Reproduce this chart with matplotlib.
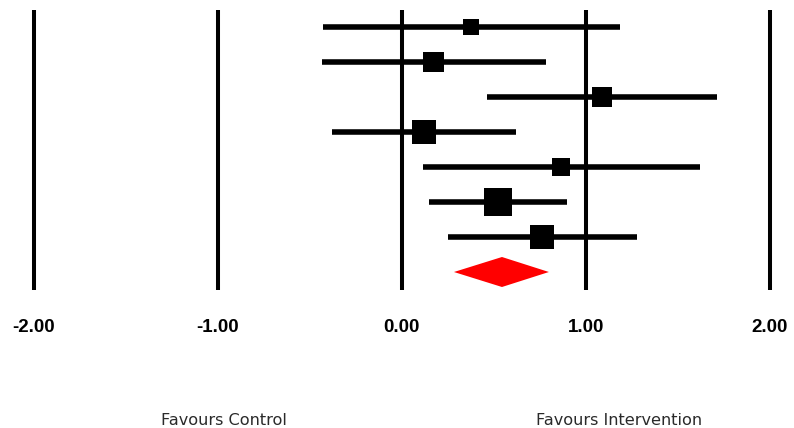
import matplotlib
matplotlib.use("Agg")
import matplotlib.pyplot as plt
from matplotlib.patches import Polygon
import numpy as np

# Study estimates (effect sizes) with 95% CI
point = [0.377, 0.174, 1.089, 0.121, 0.866, 0.523, 0.762]
lower = [-0.429, -0.435, 0.464, -0.379, 0.117, 0.148, 0.250]
upper = [1.186, 0.783, 1.712, 0.621, 1.621, 0.900, 1.277]
weights = [8.1, 12.8, 12.5, 16.3, 9.8, 22.8, 17.7]  # % weight -> square area

# Pooled estimate
pooled_point = 0.545
pooled_lower = 0.284
pooled_upper = 0.800

ticks = [-2.0, -1.0, 0.0, 1.0, 2.0]
tick_labels = ["-2.00", "-1.00", "0.00", "1.00", "2.00"]
left_label = "Favours Control"
right_label = "Favours Intervention"

W, H, DPI = 794, 428, 100
fig = plt.figure(figsize=(W / DPI, H / DPI), dpi=DPI)
ax = fig.add_axes([0, 0, 1, 1])
ax.set_axis_off()

px_per_unit = 184.0
x0_px = 401.7
row_px = 35.0
row0_px = 27.0
ax.set_xlim(-x0_px / px_per_unit, (W - x0_px) / px_per_unit)
ax.set_ylim((H - row0_px) / row_px, -row0_px / row_px)

# vertical reference lines
y_top = (10 - row0_px) / row_px
y_bot = (290 - row0_px) / row_px
for t in ticks:
    ax.plot([t, t], [y_top, y_bot], color="black", lw=2.9, solid_capstyle="butt", zorder=1)

n = len(point)
rows = np.arange(n)
for i in range(n):
    ax.plot([lower[i], upper[i]], [rows[i], rows[i]], color="black", lw=4.0,
            solid_capstyle="butt", zorder=2)
side_px = 5.86 * np.sqrt(np.array(weights))
ax.scatter(point, rows, marker="s", s=(side_px * 72 / DPI) ** 2, color="black",
           linewidths=0, zorder=3)

# pooled diamond
yd = n
hh = 15.0 / row_px
diamond = Polygon([[pooled_lower, yd], [pooled_point, yd - hh], [pooled_upper, yd],
                   [pooled_point, yd + hh]], closed=True, color="#ff0000", lw=0, zorder=3)
ax.add_patch(diamond)

# tick labels
y_tick = (327 - row0_px) / row_px
for t, lab in zip(ticks, tick_labels):
    ax.text(t, y_tick, lab, ha="center", va="center", fontsize=13.5, fontweight="bold",
            family="Liberation Sans", color="black")

y_lab = (420 - row0_px) / row_px
ax.text((224 - x0_px) / px_per_unit, y_lab, left_label, ha="center", va="center",
        fontsize=11.6, family="DejaVu Sans", color="#2a2a2a")
ax.text((619 - x0_px) / px_per_unit, y_lab, right_label, ha="center", va="center",
        fontsize=11.6, family="DejaVu Sans", color="#2a2a2a")

fig.savefig("out.png", dpi=DPI)
